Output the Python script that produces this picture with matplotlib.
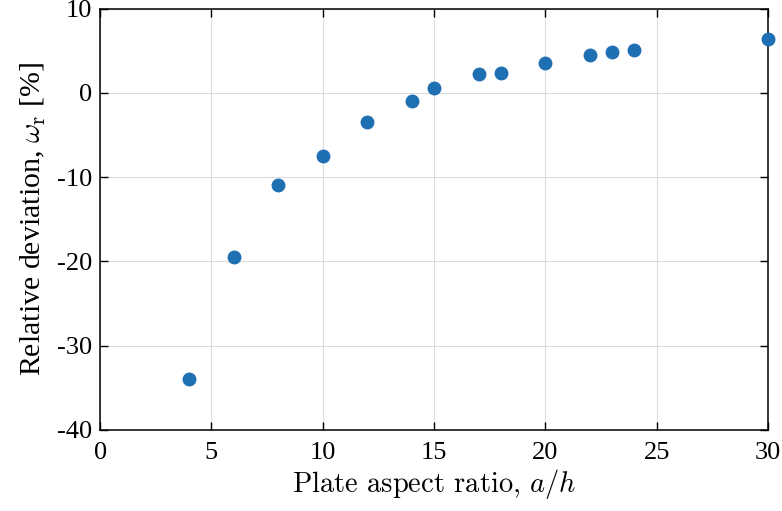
import matplotlib.pyplot as plt
import numpy as np

ratio = [4, 6, 8, 10, 12, 14, 15, 17, 18, 20, 22, 23, 24, 30]
deviation = [-34.0, -19.5, -10.9, -7.5, -3.5, -1.0, 0.6, 2.3, 2.4, 3.6, 4.5, 4.9, 5.1, 6.4]
x_ticks = [0, 5, 10, 15, 20, 25, 30]
y_ticks = [-40, -30, -20, -10, 0, 10]

plt.rcParams['font.family'] = 'Liberation Serif'
plt.rcParams['mathtext.fontset'] = 'cm'
plt.rcParams['axes.unicode_minus'] = False

fig = plt.figure(figsize=(7.82, 5.11), dpi=100)
ax = fig.add_axes([0.128, 0.159, 0.854, 0.824])

ax.plot(ratio, deviation, 'o', color='#1f6fb3', markersize=9, clip_on=False, zorder=3)

ax.set_xlim(0, 30)
ax.set_ylim(-40, 10)
ax.set_xticks(x_ticks)
ax.set_yticks(y_ticks)
ax.grid(True, color='#dcdcdc', linewidth=0.8)
ax.tick_params(direction='in', length=6, width=1, top=True, right=True,
               labelsize=19, colors='black')
ax.tick_params(axis='x', pad=9)
ax.tick_params(axis='y', pad=6)
for s in ax.spines.values():
    s.set_linewidth(1.1)

ax.set_xlabel('Plate aspect ratio, $a/h$', fontfamily='cmr10', fontsize=20.5, labelpad=2)
ax.set_ylabel(r'Relative deviation, $\omega_\mathrm{r}$ [%]', fontsize=21.5, labelpad=6)

fig.savefig('out.png', dpi=100)
